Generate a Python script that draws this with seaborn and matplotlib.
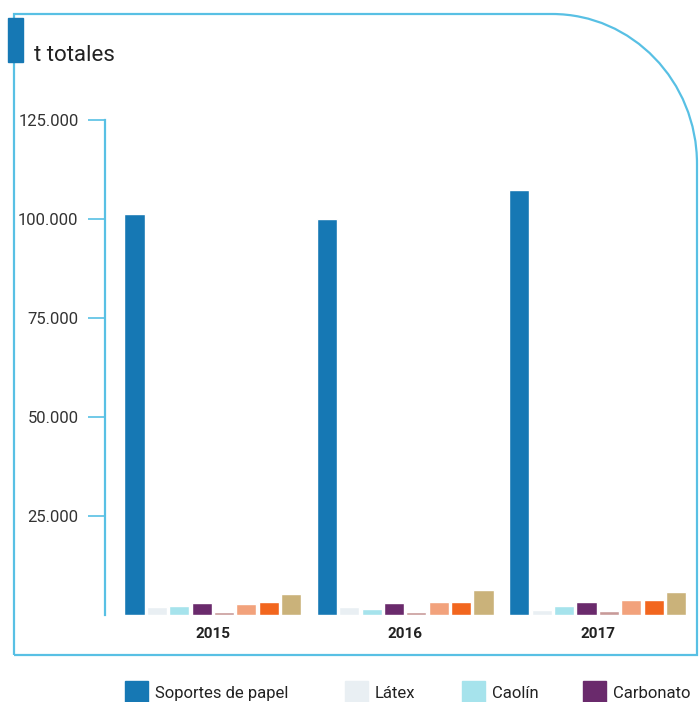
import matplotlib
matplotlib.use("Agg")
import matplotlib.pyplot as plt
from matplotlib.path import Path
from matplotlib.patches import PathPatch, Rectangle
from matplotlib.ticker import FuncFormatter
import seaborn as sns
import pandas as pd

years = ["2015", "2016", "2017"]
materials = ["Soportes de papel", "Látex", "Caolín", "Carbonato",
             "Almidón", "Aditivos", "Pigmentos", "Otros"]
soportes = [101300, 100000, 107300]
latex = [2000, 1900, 1200]
caolin = [2300, 1600, 2300]
carbonato = [3000, 3100, 3400]
almidon = [800, 700, 900]
aditivos = [2900, 3400, 3700]
pigmentos = [3300, 3400, 3900]
otros = [5300, 6200, 5900]
legend_items = ["Soportes de papel", "Látex", "Caolín", "Carbonato"]
y_ticks = [25000, 50000, 75000, 100000, 125000]

colors = ["#1678b4", "#e9eff3", "#a6e3ec", "#6a2a6c",
          "#c89a98", "#f2a27c", "#f2661e", "#cab27a"]
frame_color = "#58c0e4"

series = [soportes, latex, caolin, carbonato, almidon, aditivos, pigmentos, otros]
rows = []
for name, vals in zip(materials, series):
    for yr, v in zip(years, vals):
        rows.append({"year": yr, "material": name, "value": v})
df = pd.DataFrame(rows)

sns.set_theme(style="white")
plt.rcParams["font.family"] = ["Roboto", "DejaVu Sans"]

W, H = 699, 702
fig = plt.figure(figsize=(W / 100, H / 100), dpi=100)

def fx(px):
    return px / W

def fy(py):
    return 1 - py / H

ax_left, ax_right, ax_top, ax_bottom = 105, 692, 120, 615
ax = fig.add_axes([fx(ax_left), fy(ax_bottom), fx(ax_right - ax_left),
                   (ax_bottom - ax_top) / H])

sns.barplot(data=df, x="year", y="value", hue="material", hue_order=materials,
            order=years, palette=colors, width=0.93, gap=0.1, saturation=1,
            legend=False, ax=ax)

ax.set_ylim(0, 125000)
ax.set_xlim(-0.56, 2.49)
ax.set_yticks(y_ticks)
ax.yaxis.set_major_formatter(FuncFormatter(lambda v, p: f"{int(v):,}".replace(",", ".")))
ax.set_xlabel("")
ax.set_ylabel("")
for s in ["top", "right", "bottom"]:
    ax.spines[s].set_visible(False)
ax.spines["left"].set_color(frame_color)
ax.spines["left"].set_linewidth(1.6)
ax.tick_params(axis="y", length=12, width=1.2, color=frame_color, pad=7,
               labelsize=12, labelcolor="#333333", left=True)
ax.tick_params(axis="x", length=0, pad=9, labelsize=11, labelcolor="#222222")
for lbl in ax.get_xticklabels():
    lbl.set_fontweight("bold")
ax.patch.set_alpha(0)

# outer frame with a wide rounded top-right corner
x0, x1, y0, y1, rx, ry = 14, 697, 14, 655, 145, 150
k = 0.5523
verts = [(x0, y1), (x0, y0), (x1 - rx, y0), (x1 - rx + rx * k, y0), (x1, y0 + ry - ry * k),
         (x1, y0 + ry), (x1, y1), (x0, y1)]
codes = [Path.MOVETO, Path.LINETO, Path.LINETO, Path.CURVE4, Path.CURVE4, Path.CURVE4,
         Path.LINETO, Path.LINETO]
frame = Path([(fx(a), fy(b)) for a, b in verts], codes)
fig.patches.append(PathPatch(frame, transform=fig.transFigure, fill=False,
                             edgecolor=frame_color, linewidth=1.6))

# title block
fig.patches.append(Rectangle((fx(8), fy(62)), fx(15), (62 - 18) / H,
                             transform=fig.transFigure, color="#1678b4"))
fig.text(fx(34), fy(61), "t totales", fontsize=16, color="#222222", va="baseline")

# legend row
legend_x = [125, 345, 462, 583]
for name, lx in zip(legend_items, legend_x):
    c = colors[materials.index(name)]
    fig.patches.append(Rectangle((fx(lx), fy(704)), fx(23), 23 / H,
                                 transform=fig.transFigure, color=c))
    fig.text(fx(lx + 30), fy(698), name, fontsize=12, color="#222222",
             va="baseline", ha="left")

fig.savefig("out.png", dpi=100)
